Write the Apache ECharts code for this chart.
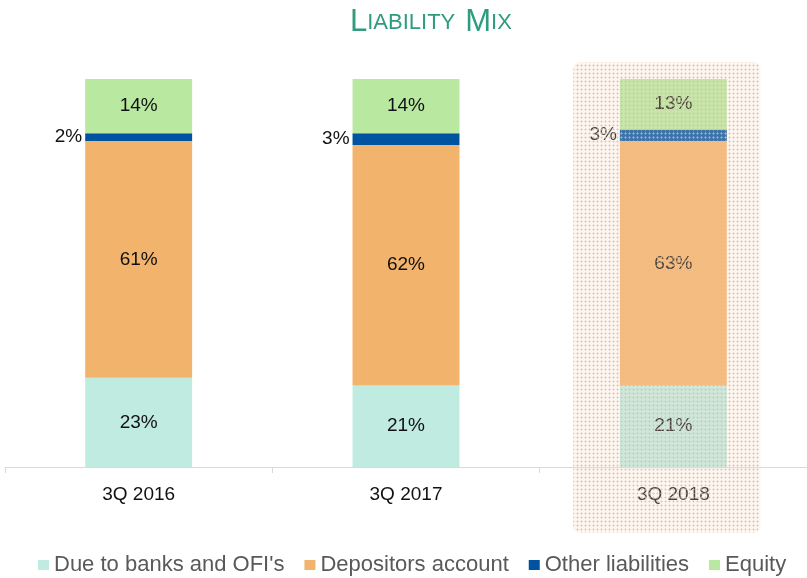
<!DOCTYPE html>
<html>
<head>
<meta charset="utf-8">
<script src="https://cdn.jsdelivr.net/npm/echarts@6/dist/echarts.min.js"></script>
<style>
html,body{margin:0;padding:0;background:#fff;}
#chart{width:807px;height:578px;}
</style>
</head>
<body>
<div id="chart"></div>
<script>
const categories = ['3Q 2016', '3Q 2017', '3Q 2018'];
const dueToBanks = [23, 21, 21];
const depositors = [61, 62, 63];
const otherLiabilities = [2, 3, 3];
const equity = [14, 14, 13];
const seriesNames = ["Due to banks and OFI's", 'Depositors account', 'Other liabilities', 'Equity'];
const highlightIndex = 2;

const FONT = '"Liberation Sans", Arial, sans-serif';
const chart = echarts.init(document.getElementById('chart'), null, {renderer: 'canvas'});

function makePattern() {
  const c = document.createElement('canvas');
  c.width = 4; c.height = 4;
  const ctx = c.getContext('2d');
  ctx.fillStyle = 'rgba(252,215,190,0.25)';
  ctx.fillRect(0, 0, 4, 4);
  ctx.fillStyle = 'rgba(248,185,140,0.45)';
  ctx.fillRect(0, 1, 3, 1);
  ctx.fillRect(1, 0, 1, 3);
  ctx.fillStyle = 'rgba(245,170,118,0.5)';
  ctx.fillRect(1, 1, 1, 1);
  return c;
}

const baseLabel = {
  show: true,
  position: 'inside',
  formatter: '{c}%',
  fontFamily: FONT,
  fontSize: 19,
  color: '#111111'
};

const option = {
  animation: false,
  backgroundColor: '#ffffff',
  title: {
    text: '{big|L}{small|IABILITY}  {big|M}{small|IX}',
    left: 345,
    top: 2,
    textStyle: {
      fontWeight: 'normal',
      rich: {
        big: {fontFamily: FONT, fontSize: 31, fontWeight: 'normal', color: '#2f9c7f'},
        small: {fontFamily: FONT, fontSize: 22, fontWeight: 'normal', color: '#2f9c7f'}
      }
    }
  },
  grid: {left: 5, right: 0, top: 79, bottom: 111, containLabel: false},
  legend: {
    top: 549,
    left: 33,
    itemWidth: 11,
    itemHeight: 10,
    itemGap: 20,
    icon: 'rect',
    selectedMode: false,
    textStyle: {fontFamily: FONT, fontSize: 22, color: '#595959'},
    data: seriesNames
  },
  xAxis: {
    type: 'category',
    data: categories,
    axisLine: {show: true, lineStyle: {color: '#d9d9d9', width: 1}},
    axisTick: {show: true, length: 6, lineStyle: {color: '#d9d9d9'}},
    axisLabel: {fontFamily: FONT, fontSize: 19, color: '#111111', margin: 18}
  },
  yAxis: {
    type: 'value',
    min: 0,
    max: 100,
    show: false,
    splitLine: {show: false}
  },
  series: [
    {
      name: seriesNames[0], type: 'bar', stack: 'total', barWidth: '40%',
      data: dueToBanks, itemStyle: {color: '#c0ebe0'}, label: baseLabel
    },
    {
      name: seriesNames[1], type: 'bar', stack: 'total', barWidth: '40%',
      data: depositors, itemStyle: {color: '#f2b36c'}, label: baseLabel
    },
    {
      name: seriesNames[2], type: 'bar', stack: 'total', barWidth: '40%',
      data: otherLiabilities, itemStyle: {color: '#0053a0'},
      label: Object.assign({}, baseLabel, {position: 'left', distance: 3})
    },
    {
      name: seriesNames[3], type: 'bar', stack: 'total', barWidth: '40%',
      data: equity, itemStyle: {color: '#b9e8a1'}, label: baseLabel
    }
  ]
};

chart.setOption(option);

// highlight box around the last category, placed from the axis scales
const centerPx = chart.convertToPixel({gridIndex: 0}, [highlightIndex, 100]);
const basePx = chart.convertToPixel({gridIndex: 0}, [highlightIndex, 0]);
const x0 = centerPx[0] - 100;
const x1 = centerPx[0] + 87;
const y0 = centerPx[1] - 17;
const y1 = basePx[1] + 66;
chart.setOption({
  graphic: [{
    type: 'rect',
    z: 100,
    silent: true,
    shape: {x: x0, y: y0, width: x1 - x0, height: y1 - y0, r: 7},
    style: {fill: {image: makePattern(), repeat: 'repeat'}}
  }]
});
</script>
</body>
</html>
